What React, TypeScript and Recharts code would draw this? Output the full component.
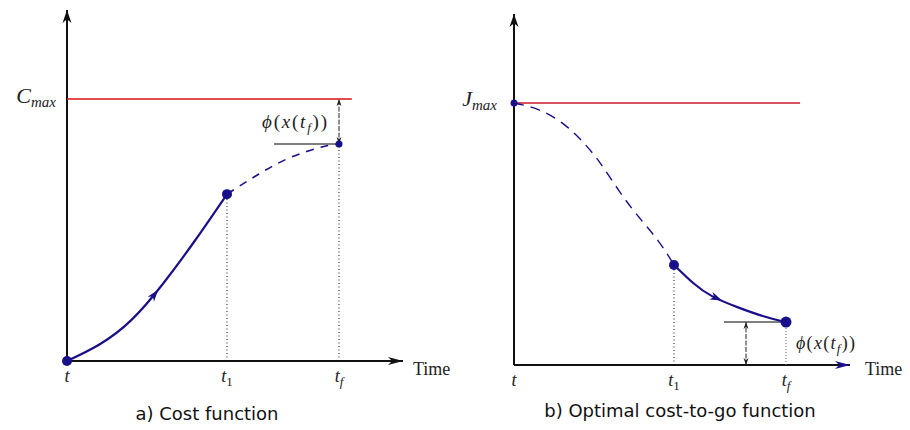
import React from 'react';
import { LineChart, Line, XAxis, YAxis, ReferenceLine, ReferenceDot } from 'recharts';

// ---- shared time / value marks ----
const T_START = 0;
const T_ONE = 5;
const T_FINAL = 8.5;
const T_AXIS_END = 10.5;
const V_MAX = 10;
const V_AXIS_END = 13.4;

const timeTicks = [T_START, T_ONE, T_FINAL];
const timeTickSubs = ['', '1', 'f'];
const valueTicks = [V_MAX];

// ---- a) cost function ----
const costSolid = [
  { t: 0, v: 0 },
  { t: 1, v: 0.62 },
  { t: 2, v: 1.55 },
  { t: 3, v: 2.95 },
  { t: 4, v: 4.6 },
  { t: 5, v: 6.37 },
];
const costDashed = [
  { t: 5, v: 6.37 },
  { t: 6, v: 7.14 },
  { t: 7, v: 7.78 },
  { t: 8, v: 8.18 },
  { t: 8.5, v: 8.28 },
];
const costRedEnd = 8.9;
const costGrayStart = 6.47;
const costArrowFrom = { t: 2.55, v: 2.25 };
const costArrowTo = { t: 2.85, v: 2.72 };

// ---- b) optimal cost-to-go ----
const ctgDashed = [
  { t: 0, v: 10 },
  { t: 0.8, v: 9.73 },
  { t: 1.6, v: 9.15 },
  { t: 2.2, v: 8.45 },
  { t: 2.7, v: 7.7 },
  { t: 3.3, v: 6.62 },
  { t: 3.9, v: 5.65 },
  { t: 4.5, v: 4.75 },
  { t: 5, v: 3.82 },
];
const ctgSolid = [
  { t: 5, v: 3.82 },
  { t: 5.6, v: 3.13 },
  { t: 6.2, v: 2.62 },
  { t: 7, v: 2.2 },
  { t: 7.8, v: 1.86 },
  { t: 8.5, v: 1.64 },
];
const ctgRedEnd = 8.94;
const ctgGrayStart = 6.56;
const ctgMeasureAt = 7.25;
const ctgArrowFrom = { t: 6.2, v: 2.62 };
const ctgArrowTo = { t: 6.5, v: 2.46 };

const NAVY = '#1a0f8a';
const INK = '#111';
const MATH_FONT = '"Liberation Serif", "DejaVu Serif", serif';
const SANS_FONT = '"DejaVu Sans", sans-serif';

const lastOf = (arr: { t: number; v: number }[]) => arr[arr.length - 1];

// Line with arrowheads drawn at its ends (stealth-like head)
type ArrowOpts = {
  stroke?: string;
  width?: number;
  head?: string;
  len?: number;
  half?: number;
  start?: boolean;
  end?: boolean;
  dash?: string;
  hideLine?: boolean;
};
const headPoints = (tx: number, ty: number, fx: number, fy: number, len: number, half: number) => {
  const dx = tx - fx;
  const dy = ty - fy;
  const d = Math.hypot(dx, dy) || 1;
  const ux = dx / d;
  const uy = dy / d;
  const nx = -uy;
  const ny = ux;
  const bx = tx - ux * len;
  const by = ty - uy * len;
  const mx = tx - ux * len * 0.72;
  const my = ty - uy * len * 0.72;
  return `${tx},${ty} ${bx + nx * half},${by + ny * half} ${mx},${my} ${bx - nx * half},${by - ny * half}`;
};
const arrowShape = (o: ArrowOpts) => (p: any) => {
  const { x1, y1, x2, y2 } = p;
  const len = o.len ?? 12;
  const half = o.half ?? 4;
  return (
    <g>
      {!o.hideLine && (
        <line
          x1={x1}
          y1={y1}
          x2={x2}
          y2={y2}
          stroke={o.stroke ?? INK}
          strokeWidth={o.width ?? 2}
          strokeDasharray={o.dash}
        />
      )}
      {o.end !== false && (
        <polygon points={headPoints(x2, y2, x1, y1, len, half)} fill={o.head ?? o.stroke ?? INK} />
      )}
      {o.start && (
        <polygon points={headPoints(x1, y1, x2, y2, len, half)} fill={o.head ?? o.stroke ?? INK} />
      )}
    </g>
  );
};

const TimeTick = (props: any) => {
  const { x, y, payload } = props;
  const idx = timeTicks.indexOf(payload.value);
  const sub = idx >= 0 ? timeTickSubs[idx] : '';
  return (
    <text
      x={x}
      y={y + 21}
      textAnchor="middle"
      fontFamily={MATH_FONT}
      fontStyle="italic"
      fontSize={18}
      fill="#222"
    >
      t
      {sub && (
        <tspan fontSize={13} dy={4} fontStyle={sub === '1' ? 'normal' : 'italic'}>
          {sub}
        </tspan>
      )}
    </text>
  );
};

const makeMaxTick = (letter: string, gap: number, dy: number) => (props: any) => {
  const { x, y } = props;
  return (
    <text
      x={x - gap}
      y={y + dy}
      textAnchor="end"
      fontFamily={MATH_FONT}
      fontStyle="italic"
      fontSize={22}
      fill="#222"
    >
      {letter}
      <tspan fontSize={15} dy={4}>
        max
      </tspan>
    </text>
  );
};

const textAt = (dx: number, dy: number, content: React.ReactNode, opts: any = {}) => (p: any) => (
  <text
    x={p.cx + dx}
    y={p.cy + dy}
    fontFamily={MATH_FONT}
    fontSize={opts.size ?? 17}
    fontStyle={opts.italic ? 'italic' : 'normal'}
    fill="#222"
    textLength={opts.textLength}
    lengthAdjust="spacing"
  >
    {content}
  </text>
);

const PhiLabel = (
  <>
    <tspan fontStyle="italic">ϕ</tspan>(<tspan fontStyle="italic">x</tspan>(
    <tspan fontStyle="italic">t</tspan>
    <tspan fontStyle="italic" fontSize={13} dy={4}>
      f
    </tspan>
    <tspan dy={-4}>))</tspan>
  </>
);

type PanelProps = {
  left: number;
  width: number;
  margin: { top: number; right: number; bottom: number; left: number };
  yAxisWidth: number;
  maxLetter: string;
  maxGap: number;
  maxDy: number;
};

const baseAxes = (p: PanelProps) => [
  <XAxis
    key="x"
    type="number"
    dataKey="t"
    domain={[T_START, T_AXIS_END]}
    ticks={timeTicks}
    axisLine={false}
    tickLine={false}
    tickSize={0}
    tickMargin={0}
    height={30}
    tick={<TimeTick />}
    interval={0}
  />,
  <YAxis
    key="y"
    type="number"
    dataKey="v"
    domain={[0, V_AXIS_END]}
    ticks={valueTicks}
    axisLine={false}
    tickLine={false}
    tickSize={0}
    tickMargin={0}
    width={p.yAxisWidth}
    tick={makeMaxTick(p.maxLetter, p.maxGap, p.maxDy)}
    interval={0}
  />,
];

const CostPanel = () => {
  const p: PanelProps = {
    left: 0,
    width: 470,
    margin: { top: 10, right: 67, bottom: 39, left: 7 },
    yAxisWidth: 60,
    maxLetter: 'C',
    maxGap: 11,
    maxDy: 4,
  };
  const tfVal = lastOf(costDashed).v;
  const t1Val = lastOf(costSolid).v;
  return (
    <div style={{ position: 'absolute', left: p.left, top: 0 }}>
      <LineChart width={p.width} height={430} margin={p.margin}>
        {baseAxes(p)}
        {/* axes with arrowheads */}
        <ReferenceLine
          ifOverflow="visible"
          segment={[{ x: 0, y: 0 }, { x: 0, y: V_AXIS_END }]}
          shape={arrowShape({ width: 2, len: 13, half: 4.5 })}
        />
        <ReferenceLine
          ifOverflow="visible"
          segment={[{ x: 0, y: 0 }, { x: T_AXIS_END, y: 0 }]}
          shape={arrowShape({ width: 2, len: 15, half: 4 })}
        />
        {/* upper bound */}
        <ReferenceLine
          ifOverflow="visible"
          segment={[{ x: 0, y: V_MAX }, { x: costRedEnd, y: V_MAX }]}
          stroke="#d81010"
          strokeWidth={1.6}
        />
        {/* drop lines to the time axis */}
        <ReferenceLine
          ifOverflow="visible"
          segment={[{ x: T_ONE, y: 0 }, { x: T_ONE, y: t1Val }]}
          stroke={INK}
          strokeWidth={1}
          strokeDasharray="1 2.5"
        />
        <ReferenceLine
          ifOverflow="visible"
          segment={[{ x: T_FINAL, y: 0 }, { x: T_FINAL, y: tfVal }]}
          stroke={INK}
          strokeWidth={1}
          strokeDasharray="1 2.5"
        />
        {/* terminal level and its gap to the bound */}
        <ReferenceLine
          ifOverflow="visible"
          segment={[{ x: costGrayStart, y: tfVal }, { x: T_FINAL, y: tfVal }]}
          stroke="#555"
          strokeWidth={1.5}
        />
        <ReferenceLine
          ifOverflow="visible"
          segment={[{ x: T_FINAL, y: tfVal }, { x: T_FINAL, y: V_MAX }]}
          shape={arrowShape({ width: 1, stroke: '#222', len: 7, half: 2.5, start: true, dash: '5 1.5' })}
        />
        <Line
          data={costDashed}
          dataKey="v"
          type="natural"
          stroke={NAVY}
          strokeWidth={1.6}
          strokeDasharray="8 7"
          dot={false}
          activeDot={false}
          isAnimationActive={false}
        />
        <Line
          data={costSolid}
          dataKey="v"
          type="natural"
          stroke={NAVY}
          strokeWidth={2.2}
          dot={false}
          activeDot={false}
          isAnimationActive={false}
        />
        <ReferenceLine
          ifOverflow="visible"
          segment={[
            { x: costArrowFrom.t, y: costArrowFrom.v },
            { x: costArrowTo.t, y: costArrowTo.v },
          ]}
          shape={arrowShape({ stroke: NAVY, len: 12, half: 4, hideLine: true })}
        />
        <ReferenceDot ifOverflow="visible" x={0} y={0} r={5} fill={NAVY} stroke="none" />
        <ReferenceDot ifOverflow="visible" x={T_ONE} y={t1Val} r={5} fill={NAVY} stroke="none" />
        <ReferenceDot ifOverflow="visible" x={T_FINAL} y={tfVal} r={3.5} fill={NAVY} stroke="none" />
        {/* text annotations */}
        <ReferenceDot
          ifOverflow="visible"
          x={T_AXIS_END}
          y={0}
          r={0}
          shape={textAt(10, 14, 'Time', { size: 18 })}
        />
        <ReferenceDot
          ifOverflow="visible"
          x={T_FINAL}
          y={tfVal}
          r={0}
          shape={textAt(-77, -16, PhiLabel, { size: 19, textLength: 65 })}
        />
      </LineChart>
    </div>
  );
};

const CostToGoPanel = () => {
  const p: PanelProps = {
    left: 455,
    width: 455,
    margin: { top: 14, right: 60, bottom: 35, left: 4 },
    yAxisWidth: 55,
    maxLetter: 'J',
    maxGap: 17,
    maxDy: 3,
  };
  const t1Val = lastOf(ctgDashed).v;
  const tfVal = lastOf(ctgSolid).v;
  return (
    <div style={{ position: 'absolute', left: p.left, top: 0 }}>
      <LineChart width={p.width} height={430} margin={p.margin}>
        {baseAxes(p)}
        <ReferenceLine
          ifOverflow="visible"
          segment={[{ x: 0, y: 0 }, { x: 0, y: V_AXIS_END }]}
          shape={arrowShape({ width: 2, len: 13, half: 4.5 })}
        />
        <ReferenceLine
          ifOverflow="visible"
          segment={[{ x: 0, y: 0 }, { x: T_AXIS_END, y: 0 }]}
          shape={arrowShape({ width: 2, len: 15, half: 4, head: NAVY })}
        />
        <ReferenceLine
          ifOverflow="visible"
          segment={[{ x: 0, y: V_MAX }, { x: ctgRedEnd, y: V_MAX }]}
          stroke="#cc1828"
          strokeWidth={1.6}
        />
        <ReferenceLine
          ifOverflow="visible"
          segment={[{ x: T_ONE, y: 0 }, { x: T_ONE, y: t1Val }]}
          stroke={INK}
          strokeWidth={1}
          strokeDasharray="1 2.5"
        />
        <ReferenceLine
          ifOverflow="visible"
          segment={[{ x: T_FINAL, y: 0 }, { x: T_FINAL, y: tfVal }]}
          stroke="#666"
          strokeWidth={1}
          strokeDasharray="1 2"
        />
        <ReferenceLine
          ifOverflow="visible"
          segment={[{ x: ctgGrayStart, y: tfVal }, { x: T_FINAL, y: tfVal }]}
          stroke="#555"
          strokeWidth={1.5}
        />
        <ReferenceLine
          ifOverflow="visible"
          segment={[{ x: ctgMeasureAt, y: 0 }, { x: ctgMeasureAt, y: tfVal }]}
          shape={arrowShape({ width: 1, stroke: '#222', len: 7, half: 2.5, start: true, dash: '5 1.5' })}
        />
        <Line
          data={ctgDashed}
          dataKey="v"
          type="natural"
          stroke={NAVY}
          strokeWidth={1.4}
          strokeDasharray="10 7"
          dot={false}
          activeDot={false}
          isAnimationActive={false}
        />
        <Line
          data={ctgSolid}
          dataKey="v"
          type="natural"
          stroke={NAVY}
          strokeWidth={2.2}
          dot={false}
          activeDot={false}
          isAnimationActive={false}
        />
        <ReferenceLine
          ifOverflow="visible"
          segment={[
            { x: ctgArrowFrom.t, y: ctgArrowFrom.v },
            { x: ctgArrowTo.t, y: ctgArrowTo.v },
          ]}
          shape={arrowShape({ stroke: NAVY, len: 12, half: 4, hideLine: true })}
        />
        <ReferenceDot ifOverflow="visible" x={0} y={V_MAX} r={3.5} fill={NAVY} stroke="none" />
        <ReferenceDot ifOverflow="visible" x={T_ONE} y={t1Val} r={5} fill={NAVY} stroke="none" />
        <ReferenceDot ifOverflow="visible" x={T_FINAL} y={tfVal} r={5.5} fill={NAVY} stroke="none" />
        <ReferenceDot
          ifOverflow="visible"
          x={T_AXIS_END}
          y={0}
          r={0}
          shape={textAt(15, 10, 'Time', { size: 18 })}
        />
        <ReferenceDot
          ifOverflow="visible"
          x={T_FINAL}
          y={tfVal}
          r={0}
          shape={textAt(10, 27, PhiLabel, { size: 18, textLength: 59 })}
        />
      </LineChart>
    </div>
  );
};

const captionStyle: React.CSSProperties = {
  position: 'absolute',
  fontFamily: SANS_FONT,
  fontSize: 18,
  color: '#111',
  whiteSpace: 'nowrap',
  transform: 'translateX(-50%)',
  lineHeight: '22px',
};

export default function App() {
  return (
    <div
      style={{
        position: 'absolute',
        left: 0,
        top: 0,
        width: 910,
        height: 430,
        background: '#fff',
        overflow: 'hidden',
      }}
    >
      <CostPanel />
      <CostToGoPanel />
      <div style={{ ...captionStyle, left: 207, top: 403 }}>a) Cost function</div>
      <div style={{ ...captionStyle, left: 680, top: 400 }}>b) Optimal cost-to-go function</div>
    </div>
  );
}
